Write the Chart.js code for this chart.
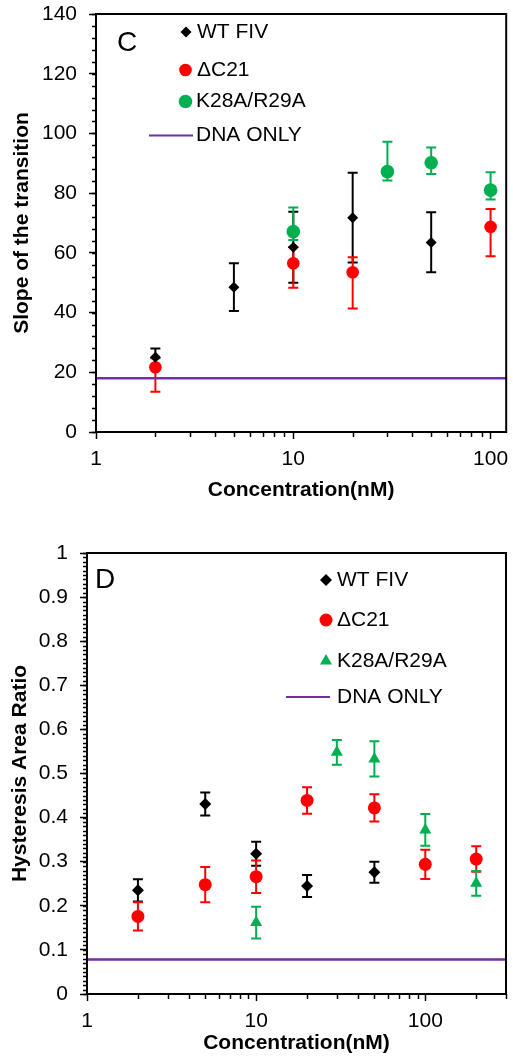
<!DOCTYPE html>
<html><head><meta charset="utf-8">
<script src="https://cdn.jsdelivr.net/npm/chart.js@4.4.1/dist/chart.umd.min.js"></script>
<style>
html,body{margin:0;padding:0;background:#fff;}
#wrapC{position:absolute;left:0;top:0;width:513px;height:520px;}
#wrapD{position:absolute;left:0;top:520px;width:513px;height:539px;}
canvas{display:block;}
</style></head><body>
<div id="wrapC"><canvas id="chartC" width="513" height="520"></canvas></div>
<div id="wrapD"><canvas id="chartD" width="513" height="539"></canvas></div>
<script>
// ---------- Panel C data ----------
const seriesNames = ['WT FIV', '\u0394C21', 'K28A/R29A', 'DNA ONLY'];

const wtConcC = [2, 5, 10, 20, 50];
const wtSlope = [25, 48.5, 61.9, 71.8, 63.5];
const wtSlopeErrPlus = [3, 8, 11.9, 15, 10.1];
const wtSlopeErrMinus = [3, 8, 11.9, 15, 10];

const dC21ConcC = [2, 10, 20, 100];
const dC21Slope = [21.7, 56.5, 53.5, 68.7];
const dC21SlopeErrPlus = [3, 5.5, 5, 6];
const dC21SlopeErrMinus = [8.2, 8.2, 12.1, 9.8];

const kConcC = [10, 30, 50, 100];
const kSlope = [67.1, 87.2, 90.2, 81];
const kSlopeErrPlus = [8.1, 10, 5.1, 6];
const kSlopeErrMinus = [2.8, 3, 3.8, 3.1];

const dnaOnlySlope = 18;

const xTicksC = [1, 10, 100];
const yTicksC = [0, 20, 40, 60, 80, 100, 120, 140];

// ---------- Panel D data ----------
const wtConcD = [2, 5, 10, 20, 50];
const wtHyst = [0.235, 0.431, 0.318, 0.245, 0.276];
const wtHystErr = [0.025, 0.026, 0.027, 0.025, 0.024];

const dC21ConcD = [2, 5, 10, 20, 50, 100, 200];
const dC21Hyst = [0.176, 0.248, 0.266, 0.439, 0.422, 0.294, 0.306];
const dC21HystErr = [0.032, 0.04, 0.037, 0.03, 0.031, 0.033, 0.029];

const kConcD = [10, 30, 50, 100, 200];
const kHyst = [0.162, 0.548, 0.533, 0.372, 0.251];
const kHystErr = [0.036, 0.028, 0.04, 0.036, 0.028];

const dnaOnlyHyst = 0.078;

const xTicksD = [1, 10, 100];
const yTicksD = [0, 0.1, 0.2, 0.3, 0.4, 0.5, 0.6, 0.7, 0.8, 0.9, 1];

// ---------- styling ----------
const FONT = "'Liberation Sans', Arial, sans-serif";
const BLACK = '#000000', RED = '#ff0000', GREEN = '#00b050', PURPLE = '#7030a0';

function pts(xs, ys) { return xs.map((x, i) => ({x: x, y: ys[i]})); }

function drawMarker(ctx, type, x, y, r, color) {
  ctx.save();
  ctx.fillStyle = color;
  ctx.beginPath();
  if (type === 'diamond') {
    ctx.moveTo(x - r, y); ctx.lineTo(x, y - r); ctx.lineTo(x + r, y); ctx.lineTo(x, y + r); ctx.closePath();
  } else if (type === 'circle') {
    ctx.arc(x, y, r, 0, Math.PI * 2);
  } else if (type === 'triangle') {
    const h = r * 1.5, w = r * Math.sqrt(3);
    ctx.moveTo(x, y - r); ctx.lineTo(x + w / 2, y - r + h); ctx.lineTo(x - w / 2, y - r + h); ctx.closePath();
  }
  ctx.fill();
  ctx.restore();
}

const errorBarsPlugin = {
  id: 'errorBars',
  beforeDatasetsDraw(chart) {
    const ctx = chart.ctx, xs = chart.scales.x, ys = chart.scales.y;
    chart.data.datasets.forEach(ds => {
      if (!ds.errPlus) return;
      ctx.save();
      ctx.strokeStyle = ds.errColor;
      ctx.lineWidth = 2;
      ds.data.forEach((p, i) => {
        const px = xs.getPixelForValue(p.x);
        const top = ys.getPixelForValue(p.y + ds.errPlus[i]);
        const bot = ys.getPixelForValue(p.y - ds.errMinus[i]);
        ctx.beginPath();
        ctx.moveTo(px, top); ctx.lineTo(px, bot);
        ctx.moveTo(px - 5, top); ctx.lineTo(px + 5, top);
        ctx.moveTo(px - 5, bot); ctx.lineTo(px + 5, bot);
        ctx.stroke();
      });
      ctx.restore();
    });
  }
};

const framePlugin = {
  id: 'frame',
  afterDraw(chart, args, opts) {
    const ctx = chart.ctx, a = chart.chartArea, xs = chart.scales.x, ys = chart.scales.y;
    ctx.save();
    ctx.strokeStyle = '#000';
    ctx.lineWidth = 1.5;
    // minor y ticks
    ctx.beginPath();
    for (let v = ys.min; v <= ys.max + 1e-9; v += opts.yMinor) {
      const py = Math.round(ys.getPixelForValue(v)) + 0.5;
      ctx.moveTo(a.left, py); ctx.lineTo(a.left - 4, py);
    }
    // minor x ticks (log)
    for (let d = 1; d <= xs.max; d *= 10) {
      for (let k = 2; k <= 9; k++) {
        const v = k * d;
        if (v > xs.max) break;
        const px = Math.round(xs.getPixelForValue(v)) + 0.5;
        ctx.moveTo(px, a.bottom); ctx.lineTo(px, a.bottom + 5);
      }
    }
    ctx.stroke();
    // frame
    ctx.lineWidth = 2;
    ctx.strokeRect(a.left, a.top, a.right - a.left, a.bottom - a.top);
    // panel letter
    ctx.fillStyle = '#000';
    ctx.font = '28px ' + FONT;
    ctx.textBaseline = 'middle';
    ctx.textAlign = 'left';
    ctx.fillText(opts.letter, opts.letterX, opts.letterY);
    // legend
    ctx.font = '21px ' + FONT;
    opts.legend.forEach(it => {
      if (it.type === 'line') {
        ctx.strokeStyle = it.color; ctx.lineWidth = 2;
        ctx.beginPath(); ctx.moveTo(it.lx1, it.y); ctx.lineTo(it.lx2, it.y); ctx.stroke();
      } else {
        drawMarker(ctx, it.type, it.mx, it.y, it.r, it.color);
      }
      ctx.fillStyle = '#000';
      ctx.fillText(it.text, it.tx, it.y);
    });
    ctx.restore();
  }
};

function makeScales(cfg) {
  return {
    x: {
      type: 'logarithmic', min: 1, max: cfg.xMax, position: 'bottom',
      afterBuildTicks: s => { s.ticks = cfg.xTicks.map(v => ({value: v})); },
      afterFit: s => { s.height = cfg.xHeight; s.paddingLeft = 0; s.paddingRight = 0; },
      ticks: {callback: v => String(v), font: {family: FONT, size: 21}, color: '#000', padding: 8, maxRotation: 0, autoSkip: false},
      grid: {display: true, drawOnChartArea: false, tickLength: 7, tickColor: '#000', tickWidth: 1.5},
      border: {display: true, color: '#000', width: 2},
      title: {display: true, text: 'Concentration(nM)', color: '#000', font: {family: FONT, size: 21, weight: 'bold'}, padding: {top: 0, bottom: cfg.xTitlePad}}
    },
    y: {
      type: 'linear', min: cfg.yTicks[0], max: cfg.yTicks[cfg.yTicks.length - 1],
      afterBuildTicks: s => { s.ticks = cfg.yTicks.map(v => ({value: v})); },
      afterFit: s => { s.width = cfg.yWidth; s.paddingTop = 0; s.paddingBottom = 0; },
      ticks: {callback: v => String(Math.round(v * 100) / 100), font: {family: FONT, size: 21}, color: '#000', padding: 12},
      grid: {display: true, drawOnChartArea: false, tickLength: 7, tickColor: '#000', tickWidth: 1.5},
      border: {display: true, color: '#000', width: 2},
      title: {display: true, text: cfg.yTitle, color: '#000', font: {family: FONT, size: 21, weight: 'bold'}, padding: {top: cfg.yTitlePad, bottom: 0}}
    }
  };
}

// ---------- Chart C ----------
new Chart(document.getElementById('chartC'), {
  type: 'scatter',
  data: {
    datasets: [
      {label: seriesNames[0], data: pts(wtConcC, wtSlope), pointStyle: 'rectRot', pointRadius: 5.5, backgroundColor: BLACK, borderColor: BLACK, borderWidth: 0, errPlus: wtSlopeErrPlus, errMinus: wtSlopeErrMinus, errColor: BLACK},
      {label: seriesNames[1], data: pts(dC21ConcC, dC21Slope), pointStyle: 'circle', pointRadius: 6.3, backgroundColor: RED, borderColor: RED, borderWidth: 0, errPlus: dC21SlopeErrPlus, errMinus: dC21SlopeErrMinus, errColor: RED},
      {label: seriesNames[2], data: pts(kConcC, kSlope), pointStyle: 'circle', pointRadius: 6.8, backgroundColor: GREEN, borderColor: GREEN, borderWidth: 0, errPlus: kSlopeErrPlus, errMinus: kSlopeErrMinus, errColor: GREEN},
      {label: seriesNames[3], type: 'line', data: [{x: 1, y: dnaOnlySlope}, {x: 120, y: dnaOnlySlope}], borderColor: PURPLE, borderWidth: 2.5, pointRadius: 0, fill: false}
    ]
  },
  options: {
    responsive: false, animation: false, events: [],
    layout: {padding: {top: 14, right: 1, left: 0, bottom: 0}},
    plugins: {
      legend: {display: false}, tooltip: {enabled: false},
      frame: {
        yMinor: 4, letter: 'C', letterX: 117, letterY: 43,
        legend: [
          {type: 'diamond', text: seriesNames[0], mx: 186, y: 32, r: 5.5, color: BLACK, tx: 197},
          {type: 'circle', text: seriesNames[1], mx: 185.5, y: 70, r: 6.3, color: RED, tx: 197},
          {type: 'circle', text: seriesNames[2], mx: 185.5, y: 101.5, r: 6.8, color: GREEN, tx: 196},
          {type: 'line', text: seriesNames[3], lx1: 149, lx2: 193, y: 135.5, color: PURPLE, tx: 196}
        ]
      }
    },
    scales: makeScales({xMax: 120, xTicks: xTicksC, xHeight: 88, xTitlePad: 17.4, yTicks: yTicksC, yWidth: 96, yTitle: 'Slope of the transition', yTitlePad: 9.4})
  },
  plugins: [errorBarsPlugin, framePlugin]
});

// ---------- Chart D ----------
new Chart(document.getElementById('chartD'), {
  type: 'scatter',
  data: {
    datasets: [
      {label: seriesNames[0], data: pts(wtConcD, wtHyst), pointStyle: 'rectRot', pointRadius: 6, backgroundColor: BLACK, borderColor: BLACK, borderWidth: 0, errPlus: wtHystErr, errMinus: wtHystErr, errColor: BLACK},
      {label: seriesNames[1], data: pts(dC21ConcD, dC21Hyst), pointStyle: 'circle', pointRadius: 6.5, backgroundColor: RED, borderColor: RED, borderWidth: 0, errPlus: dC21HystErr, errMinus: dC21HystErr, errColor: RED},
      {label: seriesNames[2], data: pts(kConcD, kHyst), pointStyle: 'triangle', pointRadius: 7, backgroundColor: GREEN, borderColor: GREEN, borderWidth: 0, errPlus: kHystErr, errMinus: kHystErr, errColor: GREEN},
      {label: seriesNames[3], type: 'line', data: [{x: 1, y: dnaOnlyHyst}, {x: 300, y: dnaOnlyHyst}], borderColor: PURPLE, borderWidth: 2.5, pointRadius: 0, fill: false}
    ]
  },
  options: {
    responsive: false, animation: false, events: [],
    layout: {padding: {top: 33, right: 0, left: 0, bottom: 0}},
    plugins: {
      legend: {display: false}, tooltip: {enabled: false},
      frame: {
        yMinor: 0.01, letter: 'D', letterX: 95, letterY: 60,
        legend: [
          {type: 'diamond', text: seriesNames[0], mx: 326, y: 60, r: 6, color: BLACK, tx: 337},
          {type: 'circle', text: seriesNames[1], mx: 326, y: 100, r: 6.5, color: RED, tx: 337},
          {type: 'triangle', text: seriesNames[2], mx: 326, y: 141, r: 7, color: GREEN, tx: 337},
          {type: 'line', text: seriesNames[3], lx1: 286, lx2: 330, y: 177, color: PURPLE, tx: 337}
        ]
      }
    },
    scales: makeScales({xMax: 300, xTicks: xTicksD, xHeight: 65, xTitlePad: 3.4, yTicks: yTicksD, yWidth: 87, yTitle: 'Hysteresis Area Ratio', yTitlePad: 7.4})
  },
  plugins: [errorBarsPlugin, framePlugin]
});
</script>
</body></html>
